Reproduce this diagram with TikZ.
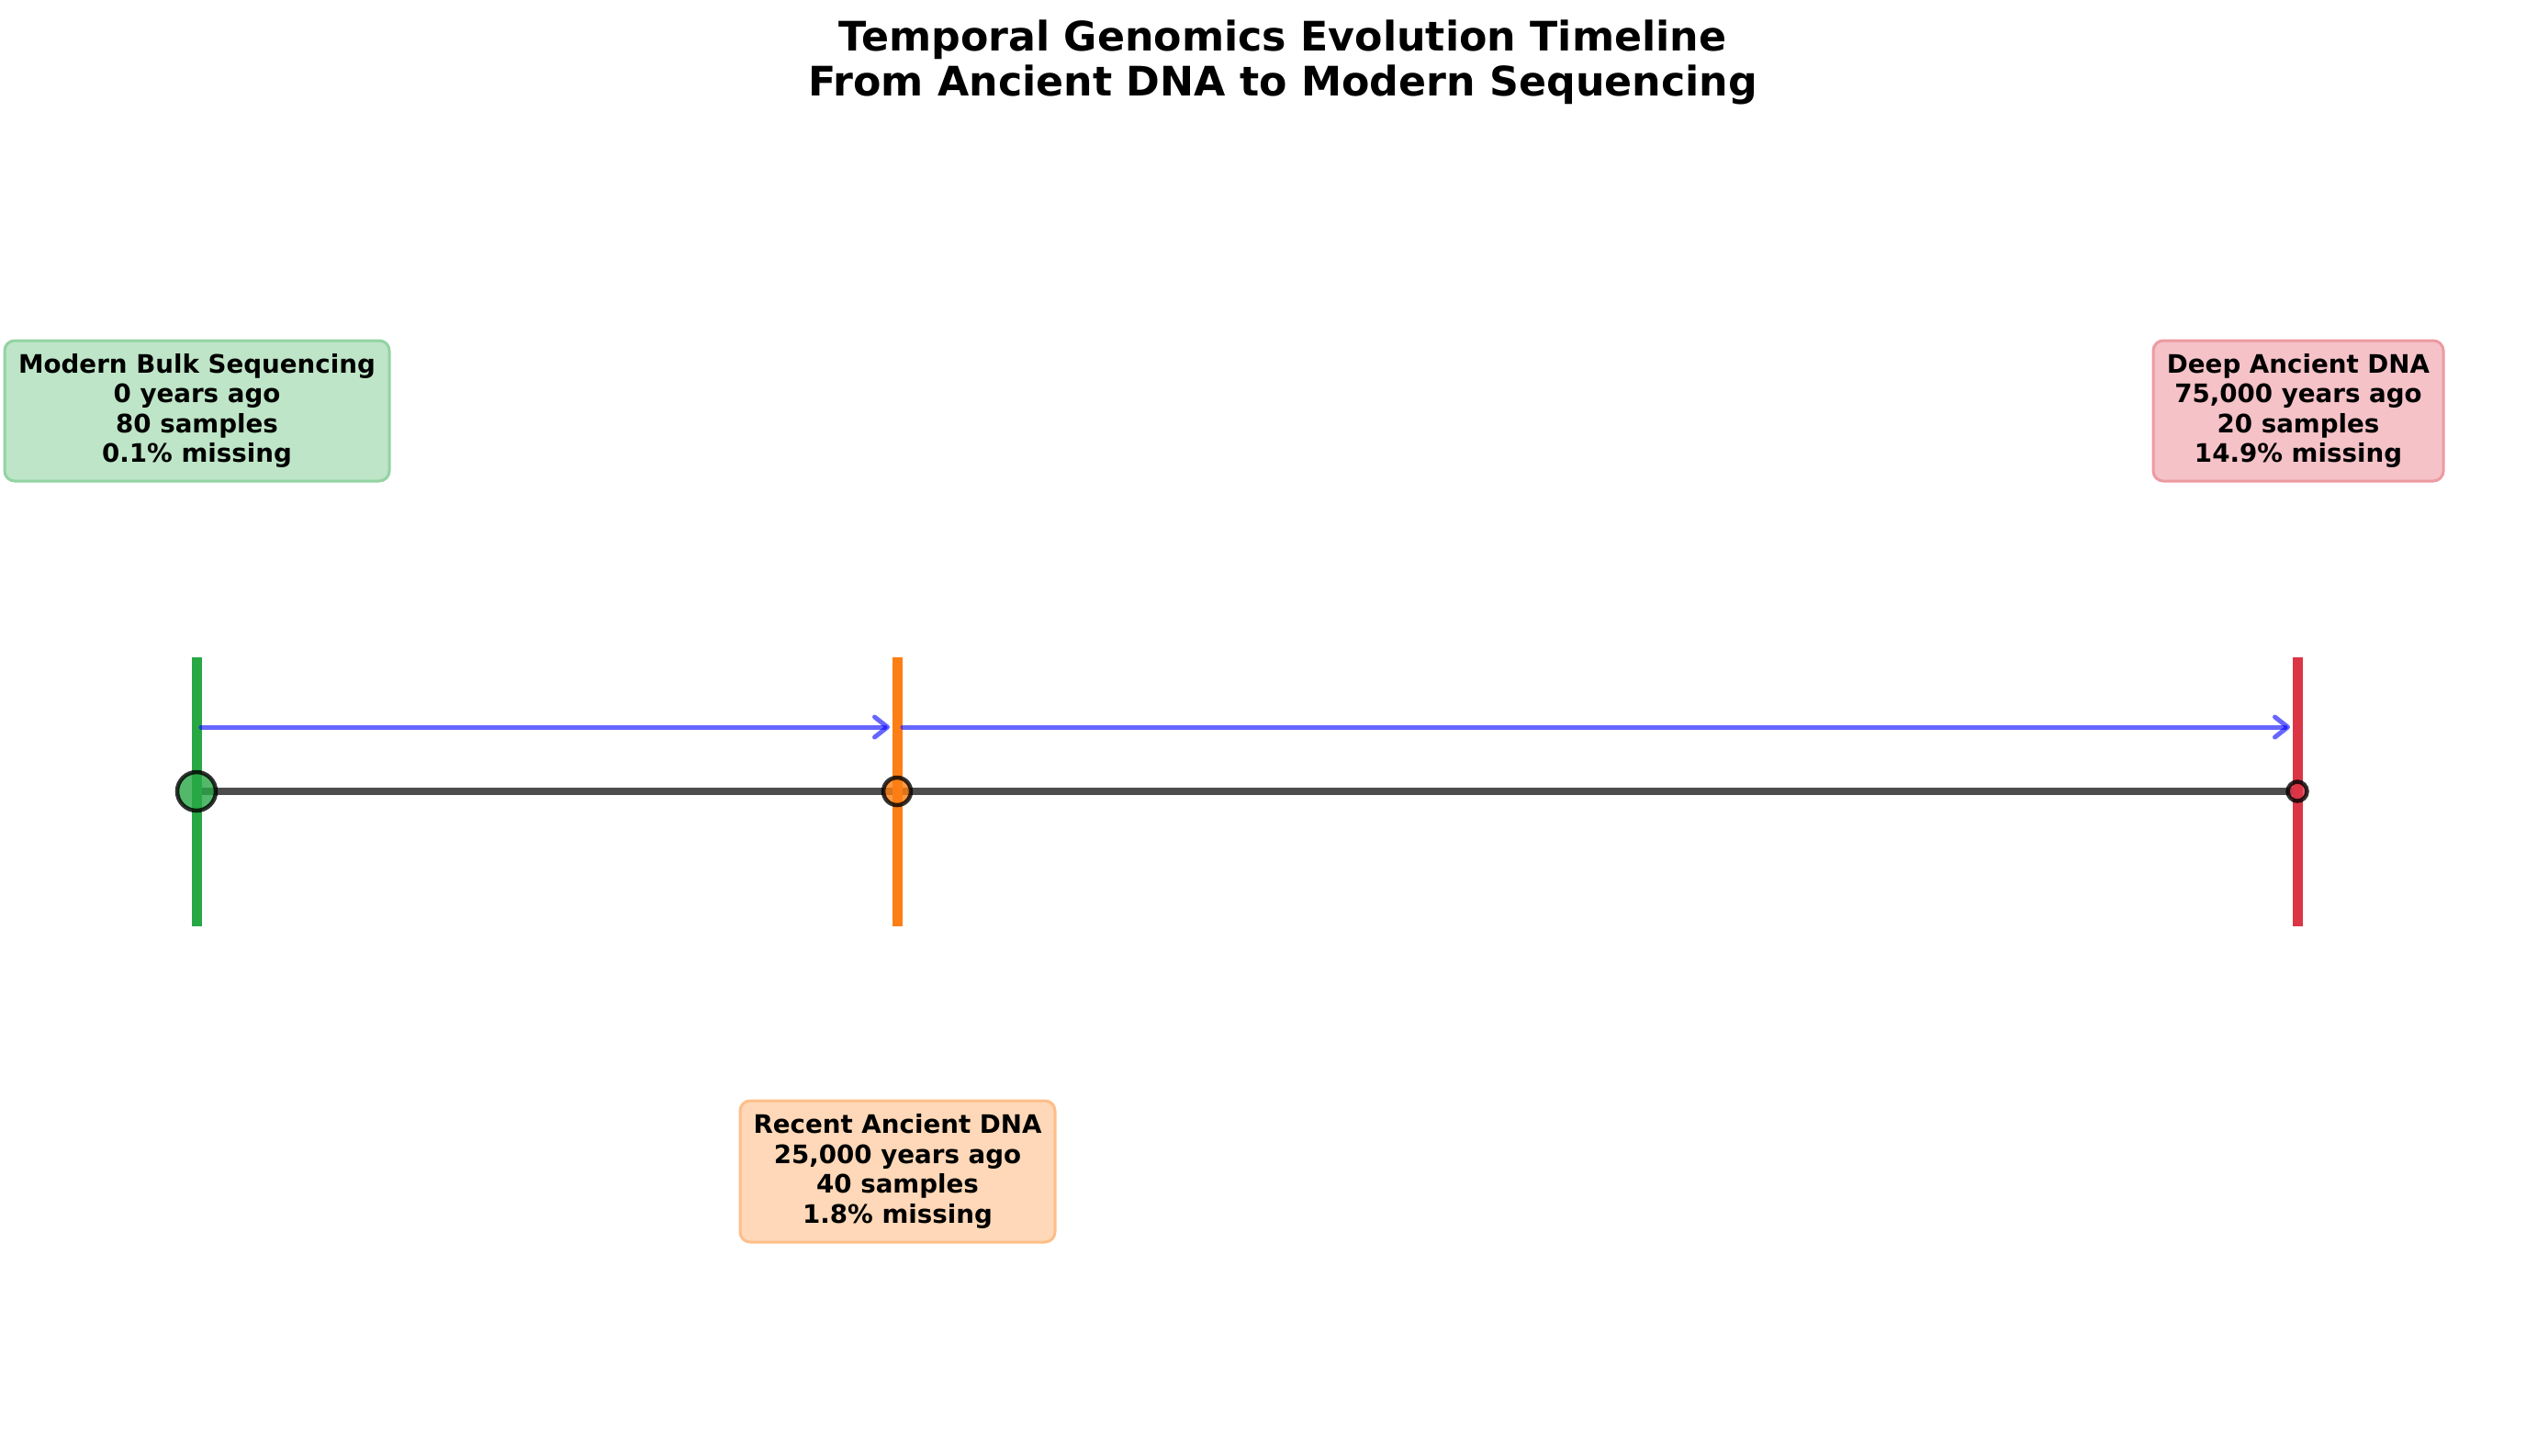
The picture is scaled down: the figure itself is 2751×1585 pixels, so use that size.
\documentclass[tikz,border=0pt]{standalone}
\usepackage{fontspec}
\setmainfont{DejaVu Sans}
\usetikzlibrary{arrows.meta}
\definecolor{cgreen}{RGB}{40,167,69}
\definecolor{corange}{RGB}{253,126,20}
\definecolor{cred}{RGB}{220,53,69}
\definecolor{cblue}{RGB}{0,0,255}
\tikzset{
  infobox/.style={draw=#1!50!white, line width=3pt, fill=#1!30!white, rounded corners=11pt,
    inner sep=0pt, align=center, font=\bfseries\fontsize{27.7}{32.4}\selectfont},
  tickline/.style={draw=#1, line width=11pt},
  dot/.style={circle, draw=black, draw opacity=0.8, fill=#1, fill opacity=0.8, line width=4.5pt, inner sep=0pt},
  flow/.style={draw=cblue, draw opacity=0.6, line width=5pt, line cap=round,
    -{Straight Barb[length=14pt,width=22pt,line join=round,line cap=round]}},
  axisline/.style={draw=black!70, line width=8pt}
}
\begin{document}
\begin{tikzpicture}[x=1pt,y=-1pt]
\useasboundingbox (0,0) rectangle (2751,1585);
% title
\node[font=\bfseries\fontsize{44.3}{49.5}\selectfont, align=center, inner sep=0pt] (title) at (1397,68)
  {Temporal Genomics Evolution Timeline\\From Ancient DNA to Modern Sequencing};
% coordinates
\coordinate (t0top) at (214,716); \coordinate (t0bot) at (214,1009);
\coordinate (t1top) at (977,716); \coordinate (t1bot) at (977,1009);
\coordinate (t2top) at (2502,716); \coordinate (t2bot) at (2502,1009);
\coordinate (a0) at (219,792); \coordinate (a1e) at (969,792);
\coordinate (a1) at (983,792); \coordinate (a2e) at (2494,792);
\coordinate (p0) at (214,862); \coordinate (p1) at (977,862); \coordinate (p2) at (2502,862);
% axis line
\draw[axisline] (p0) -- (p2);
% vertical ticks
\draw[tickline=cgreen] (t0top) -- (t0bot);
\draw[tickline=corange] (t1top) -- (t1bot);
\draw[tickline=cred] (t2top) -- (t2bot);
% dots
\node[dot=cgreen, minimum size=42pt] (m0) at (p0) {};
\node[dot=corange, minimum size=30pt] (m1) at (p1) {};
\node[dot=cred, minimum size=21pt] (m2) at (p2) {};
% arrows
\draw[flow] (a0) -- (a1e);
\draw[flow] (a1) -- (a2e);
% boxes
\node[infobox=cgreen, minimum width=419pt, minimum height=153pt] (b0) at (214.5,447.5)
  {Modern Bulk Sequencing\\0 years ago\\80 samples\\0.1\% missing};
\node[infobox=corange, minimum width=343pt, minimum height=154pt] (b1) at (977.5,1276)
  {Recent Ancient DNA\\25,000 years ago\\40 samples\\1.8\% missing};
\node[infobox=cred, minimum width=316pt, minimum height=153pt] (b2) at (2503,447.5)
  {Deep Ancient DNA\\75,000 years ago\\20 samples\\14.9\% missing};
\end{tikzpicture}
\end{document}
